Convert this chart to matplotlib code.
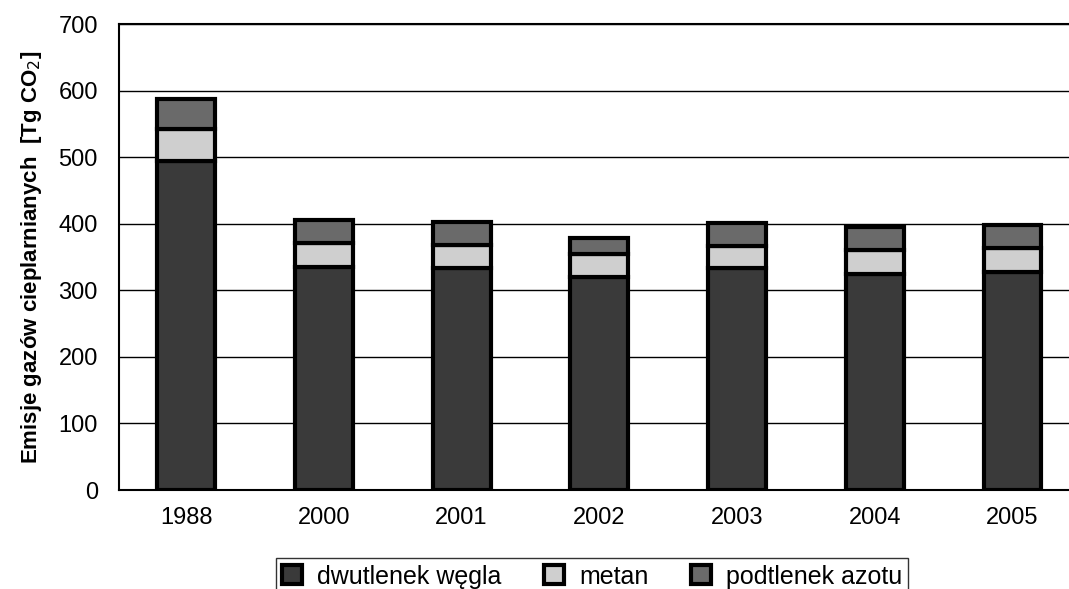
import numpy as np
import matplotlib.pyplot as plt

plt.rcParams['font.family'] = ['Liberation Sans', 'DejaVu Sans']

years = ["1988", "2000", "2001", "2002", "2003", "2004", "2005"]
co2 = [495, 335, 333, 320, 333, 325, 328]
metan = [47, 36, 35, 35, 34, 36, 35]
n2o = [46, 34, 34, 23, 34, 34, 35]

series_names = ["dwutlenek węgla", "metan", "podtlenek azotu"]
colors = ["#3a3a3a", "#cfcfcf", "#6a6a6a"]

fig = plt.figure(figsize=(10.69, 5.89), dpi=100)
ax = fig.add_axes([0.111, 0.168, 0.889, 0.791])

x = np.arange(len(years))
w = 0.42
bottom = np.zeros(len(years))
for vals, name, c in zip([co2, metan, n2o], series_names, colors):
    ax.bar(x, vals, w, bottom=bottom, color=c, edgecolor="black",
           linewidth=3, label=name, zorder=3)
    bottom += np.array(vals)

ax.set_ylim(0, 700)
ax.set_yticks(range(0, 701, 100))
ax.set_xlim(-0.49, 6.41)
ax.set_xticks(x)
ax.set_xticklabels(years)
ax.grid(axis="y", color="black", linewidth=1.0, zorder=0)
ax.tick_params(axis="both", labelsize=17, length=0)
ax.tick_params(axis="y", pad=15)
ax.tick_params(axis="x", pad=12)
for s in ax.spines.values():
    s.set_color("black")
    s.set_linewidth(1.5)
ax.spines["right"].set_visible(False)

ax.set_ylabel("Emisje gazów cieplarnianych  [Tg CO$_2$]", fontsize=16,
              fontweight="bold", labelpad=10)

leg = fig.legend(loc="upper center", bbox_to_anchor=(0.554, 0.052), ncol=3,
                 fontsize=18, frameon=True, fancybox=False, handlelength=0.8,
                 handleheight=0.8, columnspacing=1.7, handletextpad=0.6,
                 borderpad=0.25, borderaxespad=0, edgecolor="black")
leg.get_frame().set_linewidth(1.0)

fig.savefig("out.png", dpi=100)
